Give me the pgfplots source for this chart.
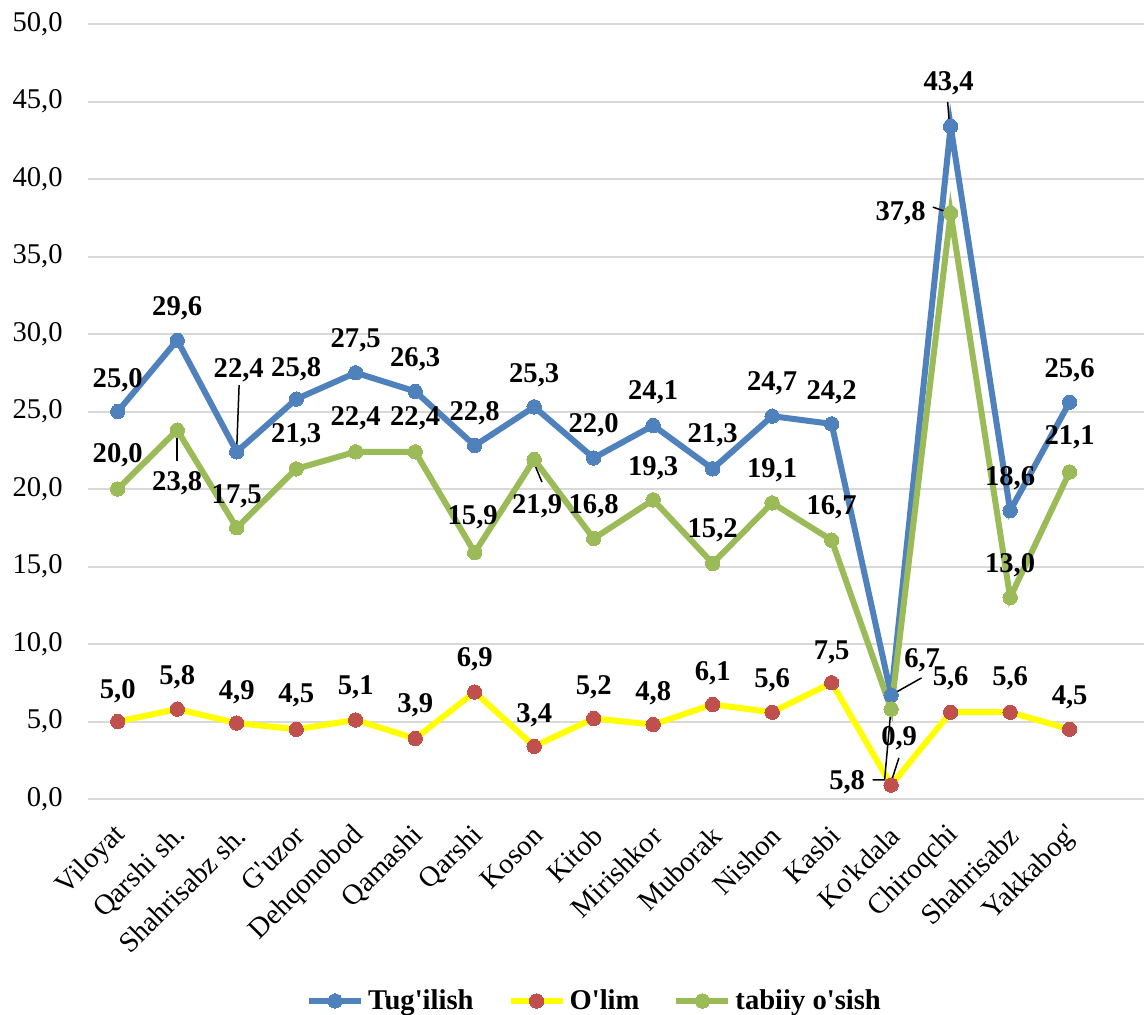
\documentclass[border=0pt]{standalone}
\usepackage{pgfplots}
\pgfplotsset{compat=1.18}
\usepackage{pgfplotstable}
\usepackage{fontspec}
\setmainfont{Liberation Serif}[Ligatures=TeXOff]
\definecolor{cblue}{HTML}{4F81BD}
\definecolor{cred}{HTML}{C0504D}
\definecolor{cgreen}{HTML}{9BBB59}
\definecolor{cyel}{HTML}{FFFF00}
\definecolor{cgrid}{HTML}{D9D9D9}
\newcommand\cf{\fontsize{14.3bp}{17bp}\selectfont}

% x y dx dy   (dx, dy: label offset in bp)
\pgfplotstableread{
x y dx dy
0 25.0 0 15.5
1 29.6 0 16
2 22.4 1 41
3 25.8 0 15
4 27.5 0 16.5
5 26.3 0 16
6 22.8 0 16
7 25.3 0 16
8 22.0 0 16.5
9 24.1 0 16.5
10 21.3 0 17
11 24.7 0 16.5
12 24.2 0 16
13 6.7 15.5 17.5
14 43.4 -1 21.5
15 18.6 0 16.5
16 25.6 0 16
}\birth

\pgfplotstableread{
x y dx dy
0 5.0 0 15
1 5.8 0 16
2 4.9 0 15.5
3 4.5 0 17
4 5.1 0 16.5
5 3.9 0 16.5
6 6.9 0 16.5
7 3.4 0 15.5
8 5.2 0 15.5
9 4.8 0 15.5
10 6.1 0 15.5
11 5.6 0 16
12 7.5 0 15
13 0.9 4 23.5
14 5.6 0 17
15 5.6 0 17
16 4.5 0 16
}\death

\pgfplotstableread{
x y dx dy
0 20.0 0 17
1 23.8 0 -26.5
2 17.5 0 15.5
3 21.3 0 17
4 22.4 0 17
5 22.4 0 17
6 15.9 -1 17.5
7 21.9 1.5 -23.5
8 16.8 0 16
9 19.3 0 16
10 15.2 0 16.5
11 19.1 0 16.5
12 16.7 0 16.5
13 5.8 -22 -36.5
14 37.8 -25 0
15 13.0 0 16
16 21.1 0 17.5
}\growth

\begin{document}
\begin{tikzpicture}
\begin{axis}[
  at={(0,0)}, anchor=south west,
  width=528bp, height=387.5bp, scale only axis,
  xmin=-0.5, xmax=17.25, ymin=0, ymax=50,
  ytick={0,5,...,50},
  xtick={0,...,16},
  xticklabels={Viloyat, Qarshi sh., Shahrisabz sh., G'uzor, Dehqonobod, Qamashi, Qarshi, Koson, Kitob, Mirishkor, Muborak, Nishon, Kasbi, Ko'kdala, Chiroqchi, Shahrisabz, Yakkabog'},
  axis line style={draw=none},
  major tick length=0pt,
  ymajorgrids, grid style={cgrid, line width=1bp},
  clip=false,
  /pgf/number format/.cd, fixed, fixed zerofill, precision=1, use comma, assume math mode=true,
  /pgfplots/.cd,
  tick label style={font=\rmfamily\cf, text=black},
  yticklabel style={anchor=east, inner sep=0pt, xshift=-12.5bp},
  xticklabel style={anchor=east, inner sep=0pt, xshift=2bp, yshift=-16bp, rotate=45},
  lab/.style={
    nodes near coords={\pgfmathprintnumber{\pgfplotspointmeta}},
    point meta=y,
    visualization depends on={\thisrow{dx}\as\dx},
    visualization depends on={\thisrow{dy}\as\dy},
    every node near coord/.append style={font=\rmfamily\bfseries\cf, text=black, anchor=center, inner sep=0pt, xshift=\dx*1bp, yshift=\dy*1bp}
  },
  legend style={draw=none, fill=none, at={(0.4806,-0.2606)}, anchor=center,
    font=\rmfamily\bfseries\cf, text=black,
    /tikz/every even column/.append style={column sep=15bp},
    nodes={inner sep=2bp, font=\rmfamily\bfseries\cf}},
  legend columns=3,
  legend image code/.code={\draw[mark repeat=2, mark phase=2, #1] plot coordinates {(0bp,0bp) (13bp,0bp) (26bp,0bp)};},
]
\addplot[cblue, line width=3bp, mark=*, mark size=3.6bp, mark options={draw=cblue, fill=cblue, line width=0pt}, lab] table[x=x, y=y] {\birth};
\addlegendentry{Tug'ilish}
\addplot[cyel, line width=3bp, mark=*, mark size=3.6bp, mark options={draw=cred, fill=cred, line width=0pt}, lab] table[x=x, y=y] {\death};
\addlegendentry{O'lim}
\addplot[cgreen, line width=3bp, mark=*, mark size=3.6bp, mark options={draw=cgreen, fill=cgreen, line width=0pt}, lab] table[x=x, y=y] {\growth};
\addlegendentry{tabiiy o'sish}

\draw[black, line width=0.75bp] (axis cs:2.04,26.7) -- (axis cs:2,22.6);
\draw[black, line width=0.75bp] (axis cs:1,23.7) -- (axis cs:1,21.8);
\draw[black, line width=0.75bp] (axis cs:6.99,21.74) -- (axis cs:7.13,20.45);
\draw[black, line width=0.75bp] (axis cs:13.0,6.71) -- (axis cs:13.51,7.81);
\draw[black, line width=0.75bp] (axis cs:13.0,1.10) -- (axis cs:13.13,2.65);
\draw[black, line width=0.75bp] (axis cs:13.0,5.94) -- (axis cs:12.89,1.23) -- (axis cs:12.69,1.23);
\draw[black, line width=0.75bp] (axis cs:13.95,44.97) -- (axis cs:13.98,43.48);
\draw[black, line width=0.75bp] (axis cs:13.70,38.19) -- (axis cs:13.98,37.81);
\end{axis}
\pgfresetboundingbox
\path (-44bp,-108bp) rectangle (528bp,399.5bp);
\end{tikzpicture}
\end{document}
